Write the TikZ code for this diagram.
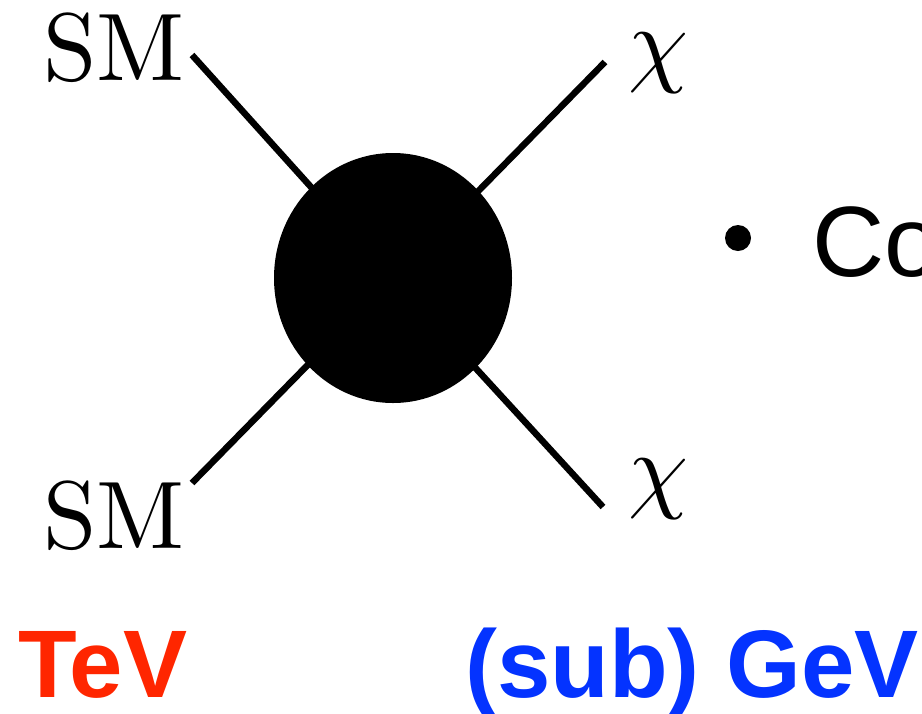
\documentclass[tikz,border=0pt]{standalone}
\usepackage{fontspec}
\newfontfamily\helv{Liberation Sans}
\definecolor{kred}{HTML}{FF2600}
\definecolor{kblue}{HTML}{0433FF}
\begin{document}
\begin{tikzpicture}[x=1pt,y=-1pt,
  leg/.style={line width=6.5pt, line cap=butt},
  lbl/.style={inner sep=0pt, anchor=base west, font=\fontsize{10}{12}\selectfont},
  bigsans/.style={inner sep=0pt, anchor=base west, font=\helv\bfseries\fontsize{96}{100}\selectfont}]
\useasboundingbox (0,0) rectangle (922,713);
\clip (0,0) rectangle (922,713);
\coordinate (c) at (393,278);
\coordinate (tl) at (192,55);
\coordinate (tr) at (605,62);
\coordinate (bl) at (192,483);
\coordinate (br) at (603,507);
\draw[leg] (tl) -- (c);
\draw[leg] (tr) -- (c);
\draw[leg] (bl) -- (c);
\draw[leg] (br) -- (c);
\fill (c) ellipse [x radius=119, y radius=125];
\node[lbl] (sm1) at (43,80) {\scalebox{9.6}{SM}};
\node[lbl] (sm2) at (43,548) {\scalebox{9.6}{SM}};
\node[lbl] (chi1) at (628,74) {\scalebox{9.6}{$\chi$}};
\node[lbl] (chi2) at (628,500) {\scalebox{9.6}{$\chi$}};
\fill (738,238) circle (13);
\node[inner sep=0pt, anchor=base west, font=\helv\fontsize{100}{110}\selectfont] (co) at (812,276) {Co};
\node[bigsans, text=kred] (tev) at (18,697) {TeV};
\node[bigsans, text=kblue] (gev) at (465,697) {(sub) GeV};
\end{tikzpicture}
\end{document}
